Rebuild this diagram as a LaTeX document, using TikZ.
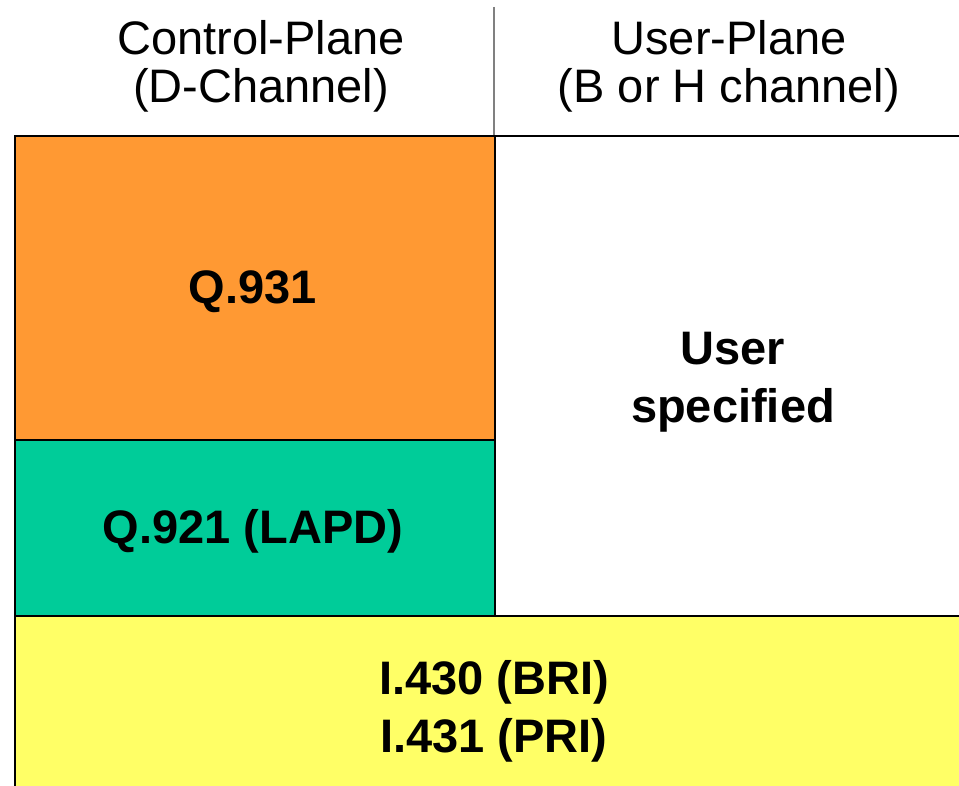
\documentclass[tikz,border=0pt]{standalone}
\usepackage{fontspec}
\setmainfont{Liberation Sans}
\definecolor{qorange}{HTML}{FF9933}
\definecolor{qgreen}{HTML}{00CC99}
\definecolor{qyellow}{HTML}{FFFF66}
\begin{document}
\begin{tikzpicture}[x=1pt,y=-1pt,
  cell/.style={draw=black,line width=2pt,rectangle,inner sep=0pt,anchor=north west},
  head/.style={align=center,font=\fontsize{47}{48}\selectfont},
  lbl/.style={align=center,font=\fontsize{47}{58}\selectfont\bfseries}]
\useasboundingbox (0,0) rectangle (959,786);
\clip (0,0) rectangle (959,786);
\node[cell,fill=qorange,minimum width=480pt,minimum height=304pt] (q931) at (14,135) {};
\node[cell,fill=qgreen,minimum width=480pt,minimum height=176pt] (q921) at (14,439) {};
\node[cell,fill=white,minimum width=480pt,minimum height=480pt] (user) at (494,135) {};
\node[cell,fill=qyellow,minimum width=960pt,minimum height=200pt] (phys) at (14,615) {};
\coordinate (vtop) at (494,7);
\draw[line width=1.6pt,color=black!50] (vtop) -- (user.north west);
\node[head] (hc) at (261,66) {Control-Plane\\(D-Channel)};
\node[head] (hu) at (729,66) {User-Plane\\(B or H channel)};
\node[lbl] (tq931) at (253,292) {Q.931};
\node[lbl] (tuser) at (733,382) {User\\specified};
\node[lbl] (tq921) at (253,531) {Q.921 (LAPD)};
\node[lbl] (tphys) at (494,711) {I.430 (BRI)\\I.431 (PRI)};
\end{tikzpicture}
\end{document}
